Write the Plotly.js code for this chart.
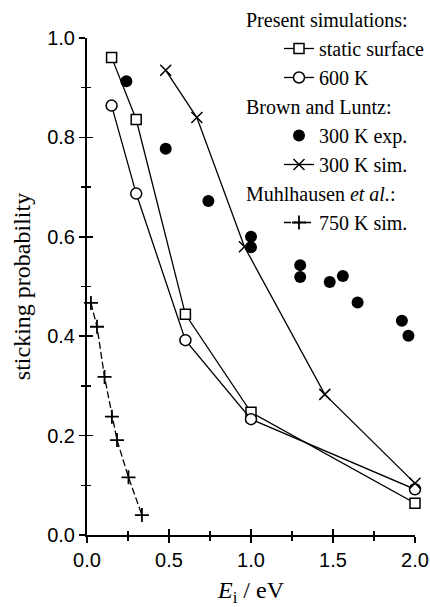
<!DOCTYPE html>
<html>
<head>
<meta charset="utf-8">
<script src="https://cdn.plot.ly/plotly-3.0.1.min.js"></script>
<style>
  html, body { margin: 0; padding: 0; background: #fff; }
  #chart { width: 430px; height: 607px; }
</style>
</head>
<body>
<div id="chart"></div>
<script>
// Incident energy (eV) and sticking probability for each data set
const staticX = [0.15, 0.30, 0.60, 1.00, 2.00];
const staticY = [0.961, 0.836, 0.444, 0.247, 0.064];

const hot600X = [0.15, 0.30, 0.60, 1.00, 2.00];
const hot600Y = [0.864, 0.687, 0.392, 0.233, 0.092];

const expX = [0.24, 0.48, 0.74, 1.00, 1.00, 1.30, 1.30, 1.48, 1.56, 1.65, 1.92, 1.96];
const expY = [0.913, 0.777, 0.672, 0.600, 0.579, 0.543, 0.519, 0.509, 0.521, 0.468, 0.431, 0.401];

const sim300X = [0.48, 0.67, 0.96, 1.45, 2.00];
const sim300Y = [0.935, 0.840, 0.580, 0.283, 0.104];

const sim750X = [0.024, 0.061, 0.107, 0.152, 0.183, 0.253, 0.335];
const sim750Y = [0.467, 0.419, 0.318, 0.238, 0.191, 0.116, 0.040];

const xTicks = [0, 0.5, 1.0, 1.5, 2.0];
const xTickText = ['0.0', '0.5', '1.0', '1.5', '2.0'];
const yTicks = [0, 0.2, 0.4, 0.6, 0.8, 1.0];
const yTickText = ['0.0', '0.2', '0.4', '0.6', '0.8', '1.0'];

const lineStyle = { color: '#000', width: 1.3 };
const serif = 'Liberation Serif, Times New Roman, serif';
const sans = 'Liberation Sans, Arial, sans-serif';

const traces = [
  {
    x: staticX, y: staticY, mode: 'lines+markers', name: 'static surface',
    legendgroup: 'present', legendgrouptitle: { text: 'Present simulations:', font: { family: serif, size: 20 } },
    line: lineStyle,
    marker: { symbol: 'square', size: 10, color: '#fff', line: { color: '#000', width: 1.5 } },
    cliponaxis: false
  },
  {
    x: hot600X, y: hot600Y, mode: 'lines+markers', name: '600 K',
    legendgroup: 'present',
    line: lineStyle,
    marker: { symbol: 'circle', size: 11, color: '#fff', line: { color: '#000', width: 1.5 } },
    cliponaxis: false
  },
  {
    x: expX, y: expY, mode: 'markers', name: '300 K exp.',
    legendgroup: 'brown', legendgrouptitle: { text: 'Brown and Luntz:', font: { family: serif, size: 20 } },
    marker: { symbol: 'circle', size: 12, color: '#000' },
    cliponaxis: false
  },
  {
    x: sim300X, y: sim300Y, mode: 'lines+markers', name: '300 K sim.',
    legendgroup: 'brown',
    line: lineStyle,
    marker: { symbol: 'x-thin', size: 11, color: '#000', line: { color: '#000', width: 1.5 } },
    cliponaxis: false
  },
  {
    x: sim750X, y: sim750Y, mode: 'lines+markers', name: '750 K sim.',
    legendgroup: 'muhl', legendgrouptitle: { text: 'Muhlhausen <i>et al.</i>:', font: { family: serif, size: 20 } },
    line: { color: '#000', width: 1.3, dash: '7px,3px' },
    marker: { symbol: 'cross-thin', size: 10, color: '#000', line: { color: '#000', width: 1.8 } },
    cliponaxis: false
  },
  // empty trace carrying the overlay axes that draw the inner half of the ticks
  { x: [], y: [], xaxis: 'x2', yaxis: 'y2', showlegend: false, hoverinfo: 'skip', type: 'scatter' }
];

const axisBase = {
  showgrid: false, zeroline: false, showline: true, linecolor: '#000', linewidth: 2,
  tickcolor: '#000', tickwidth: 1.5, mirror: false
};

const layout = {
  width: 430, height: 607,
  margin: { l: 87, r: 15, t: 37.5, b: 72, autoexpand: false },
  paper_bgcolor: '#fff', plot_bgcolor: '#fff',
  font: { family: serif, color: '#000', size: 20 },
  showlegend: true,
  legend: {
    xref: 'container', yref: 'container', x: 1.044, y: 1, xanchor: 'right', yanchor: 'top',
    traceorder: 'grouped', tracegroupgap: 0, bgcolor: 'rgba(0,0,0,0)',
    font: { family: serif, size: 20, color: '#000' }, indentation: 38
  },
  xaxis: Object.assign({}, axisBase, {
    range: [0, 2], tickmode: 'array', tickvals: xTicks, ticktext: xTickText,
    ticks: 'outside', ticklen: 6,
    minor: { dtick: 0.25, ticks: 'outside', ticklen: 4, tickcolor: '#000', tickwidth: 1.5 },
    tickfont: { family: sans, size: 20 },
    title: { text: '<i>E</i><sub>i</sub> / eV', font: { family: serif, size: 24 }, standoff: 16 }
  }),
  yaxis: Object.assign({}, axisBase, {
    range: [0, 1], tickmode: 'array', tickvals: yTicks, ticktext: yTickText,
    ticks: 'outside', ticklen: 6,
    minor: { dtick: 0.1, ticks: 'outside', ticklen: 4, tickcolor: '#000', tickwidth: 1.5 },
    tickfont: { family: sans, size: 20 },
    title: { text: 'sticking probability', font: { family: serif, size: 24 }, standoff: 10 }
  }),
  xaxis2: {
    overlaying: 'x', anchor: 'y2', range: [0, 2], showgrid: false, zeroline: false, showline: false,
    tickmode: 'array', tickvals: xTicks, showticklabels: false, ticks: 'inside', ticklen: 6,
    tickcolor: '#000', tickwidth: 1.5,
    minor: { dtick: 0.25, ticks: 'inside', ticklen: 4, tickcolor: '#000', tickwidth: 1.5 }
  },
  yaxis2: {
    overlaying: 'y', anchor: 'x2', range: [0, 1], showgrid: false, zeroline: false, showline: false,
    tickmode: 'array', tickvals: yTicks, showticklabels: false, ticks: 'inside', ticklen: 6,
    tickcolor: '#000', tickwidth: 1.5,
    minor: { dtick: 0.1, ticks: 'inside', ticklen: 4, tickcolor: '#000', tickwidth: 1.5 }
  }
};

Plotly.newPlot('chart', traces, layout, { staticPlot: true, displayModeBar: false });
</script>
</body>
</html>
